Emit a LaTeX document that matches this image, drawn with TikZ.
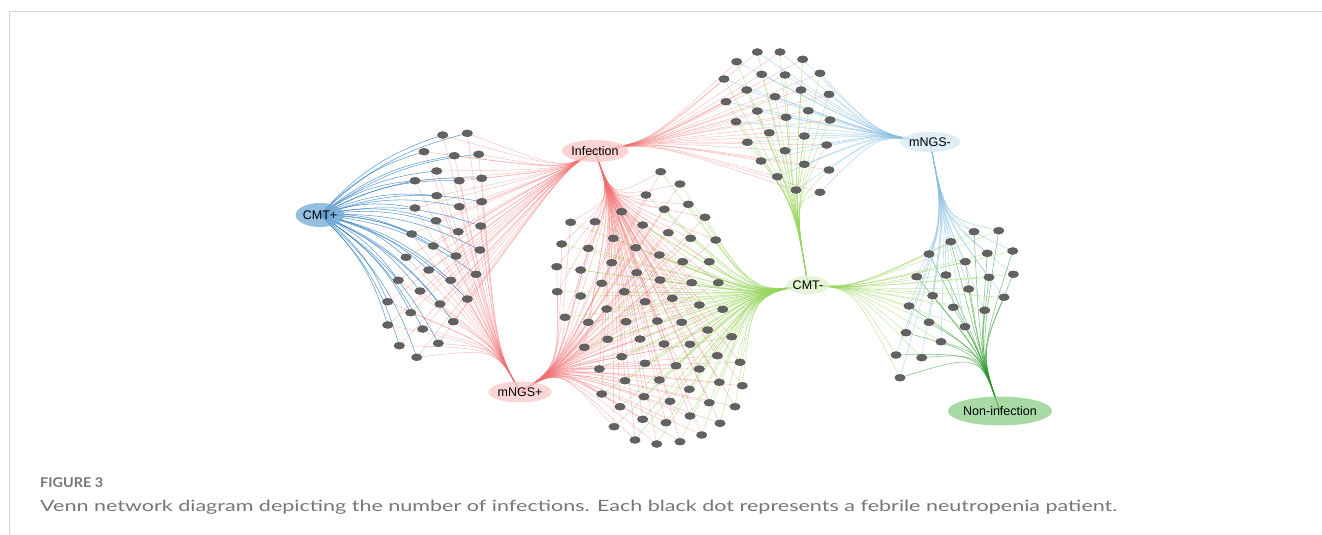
\documentclass[tikz,border=0pt]{standalone}
\usepackage{fontspec}
\setmainfont{Liberation Sans}
\newfontfamily\capfont{Lato}
\usetikzlibrary{shapes.geometric,calc,backgrounds}
\definecolor{framegray}{RGB}{214,214,214}
\definecolor{capgray}{RGB}{118,118,118}
\definecolor{dotfill}{RGB}{98,98,98}
\definecolor{dotline}{RGB}{70,70,70}
\definecolor{cmtpfill}{RGB}{112,170,214}
\definecolor{inffill}{RGB}{250,196,196}
\definecolor{mnpfill}{RGB}{249,200,200}
\definecolor{mnmfill}{RGB}{214,232,246}
\definecolor{cmtmfill}{RGB}{222,241,204}
\definecolor{nonfill}{RGB}{140,205,135}
\definecolor{eblue}{RGB}{30,115,190}
\definecolor{ered}{RGB}{240,110,110}
\definecolor{elblue}{RGB}{135,190,225}
\definecolor{elgreen}{RGB}{150,212,90}
\definecolor{egreen}{RGB}{40,150,40}
\begin{document}
\begin{tikzpicture}[x=1pt,y=-1pt,
  hub/.style={ellipse,inner sep=0pt,fill opacity=0.75,text opacity=1,font=\fontsize{12.5}{12.5}\selectfont},
  dotnode/.style={ellipse,fill=dotfill,draw=dotline,line width=0.3pt,minimum width=10.5pt,minimum height=7pt,inner sep=0pt},
  eb/.style={draw=eblue,line width=0.55pt,opacity=0.7},
  er/.style={draw=ered,line width=0.5pt,opacity=0.42},
  elb/.style={draw=elblue,line width=0.5pt,opacity=0.6},
  elg/.style={draw=elgreen,line width=0.5pt,opacity=0.55},
  eg/.style={draw=egreen,line width=0.55pt,opacity=0.6},
  framestyle/.style={draw=framegray,line width=1pt}]
\useasboundingbox (0,0) rectangle (1322,535);
% frame
\coordinate (f1) at (9,12);
\coordinate (f2) at (1322,12);
\coordinate (f3) at (9,535);
\draw[framestyle] (f2) -- (f1) -- (f3);
% cluster centroids
\coordinate (cL) at (440,245);
\coordinate (cM) at (650,310);
\coordinate (cT) at (780,120);
\coordinate (cR) at (960,295);
% hubs
\node[hub,fill=cmtpfill,minimum width=44pt,minimum height=24pt] (CMTp) at (320,215) {CMT+};
\node[hub,fill=inffill,minimum width=56pt,minimum height=22pt] (Inf) at (595,151) {Infection};
\node[hub,fill=mnmfill,minimum width=60pt,minimum height=20pt] (mNm) at (930,142) {mNGS-};
\node[hub,fill=cmtmfill,minimum width=38pt,minimum height=18pt] (CMTm) at (808,285) {CMT-};
\node[hub,fill=mnpfill,minimum width=55pt,minimum height=21pt] (mNp) at (520,392) {mNGS+};
\node[hub,fill=nonfill,minimum width=84pt,minimum height=29pt] (Non) at (1000,411) {Non-infection};
% left cluster
\foreach \x/\y [count=\i] in {442.7/135,467.3/133.3,424/151.7,454.3/155.7,478.7/154.3,436.7/171,415/180.7,459.3/180.7,481.7/178.3,436.7/195.7,415/208,459.3/206.7,481.7/201.7,436/220.7,458.3/231.7,480.7/226,411.7/234,433.3/246,480/250,456/256,406/257.3,428.7/270,476/274.3,398.3/280.3,450.7/280.3,420/291,440/304,467.3/299,387.7/301.7,410.7/312.7,453.3/321.7,387.7/325,422.7/329,399.3/345.7,438.3/343.3,416.7/357.3}
  \node[dotnode] (L\i) at (\x,\y) {};
% middle cluster
\foreach \x/\y [count=\i] in {660.7/171.7,680/184,646/195,688.3/204.3,664.3/209.3,705/217.3,621.7/211.7,570.7/222.3,595/221.7,642.7/225,668.3/232.7,690.7/238.3,715.7/240,613.3/238.3,561.7/244,588.3/248.3,635.7/247.7,659.3/255,682.7/261.7,709.3/261.7,611.7/262.7,556.7/266.7,580.7/270,636.7/272.7,660/280,691.7/282.7,718.3/282.7,601.7/283.3,557.3/291.7,624.3/291.7,580.7/296,645/301.7,672.3/298.3,699.3/305,722.7/309.3,606.7/309,565/317.3,588.3/322.3,626/321.7,657.3/321,681.7/322.3,707.7/330,731.7/336.7,607.7/339.3,584.3/347.3,640/339,664/344,690/344.3,717.3/355.7,621.7/356.7,740/362.3,645/363.3,676/365.7,699.3/369,599.3/369,625/380.7,659.3/380,719.3/382.3,742.3/385.7,689.3/389.3,601.7/394,644/396.7,670/401.3,709.3/402.7,735/406.7,620/406.7,642.7/419.3,666/422.7,690/416,720/423.3,614/426.7,635/440,656.7/444,680/441.7,701.7/435}
  \node[dotnode] (M\i) at (\x,\y) {};
% top cluster
\foreach \x/\y [count=\i] in {757.3/52,780/52,736.7/61.7,802.7/59.3,724/79,761.7/74.3,785/75,820/73.3,746.7/90,801/90,775/96.7,829/94.3,726/101.7,757.3/111,786/117.3,808.3/110.7,830/120,736/121.7,769.3/132.7,804.3/136,747.3/142.3,826.7/145,785/150.7,761/161,804.3/164.3,829/170,777.3/176.7,796/190,820/192.3}
  \node[dotnode] (T\i) at (\x,\y) {};
% right cluster
\foreach \x/\y [count=\i] in {974/231.7,998.7/230.7,950.7/241.7,929/254,987.3/253.3,1012.7/251,965.3/261.7,916.7/276.7,946/275,989/277.3,1013.3/274.3,968.7/289,932.7/295.7,1004/297.3,909/306,953.3/307.3,984.7/310.3,929/322.3,965/326.7,906/332.7,941/341.7,896/355,921.7/357.7,900/377.7}
  \node[dotnode] (R\i) at (\x,\y) {};
% edges
\begin{pgfonlayer}{background}
\foreach \i in {1,...,36} {
  \draw[er] (Inf.center) .. controls ($(Inf.center)!0.2!(cL)$) .. (L\i.center);
  \draw[er] (mNp.center) .. controls ($(mNp.center)!0.3!(cL)$) .. (L\i.center);
  \draw[eb] (CMTp.center) to[bend left=15] (L\i.center);
}
\foreach \i in {1,...,75} {
  \draw[er] (Inf.center) .. controls ($(Inf.center)!0.3!(cM)$) .. (M\i.center);
  \draw[er] (mNp.center) .. controls ($(mNp.center)!0.3!(cM)$) .. (M\i.center);
  \draw[elg] (CMTm.center) .. controls ($(CMTm.center)!0.35!(cM)$) .. (M\i.center);
}
\foreach \i in {1,...,29} {
  \draw[er] (Inf.center) .. controls ($(Inf.center)!0.3!(cT)$) .. (T\i.center);
  \draw[elb] (mNm.center) .. controls ($(mNm.center)!0.35!(cT)$) .. (T\i.center);
  \draw[elg] (CMTm.center) .. controls ($(CMTm.center)!0.5!(cT)$) .. (T\i.center);
}
\foreach \i in {1,...,24} {
  \draw[elb] (mNm.center) .. controls ($(mNm.center)!0.5!(cR)$) .. (R\i.center);
  \draw[elg] (CMTm.center) .. controls ($(CMTm.center)!0.3!(cR)$) .. (R\i.center);
  \draw[eg] (Non.center) .. controls ($(Non.center)!0.5!(cR)$) .. (R\i.center);
}
\end{pgfonlayer}
% caption
\node[anchor=base west,inner sep=0pt,text=capgray] (figlabel) at (40,487)
  {\resizebox{63pt}{\height}{\capfont\bfseries\fontsize{13.5}{14}\selectfont FIGURE 3}};
\node[anchor=base west,inner sep=0pt,text=capgray] (caption) at (40,511)
  {\resizebox{1077pt}{\height}{\capfont\fontsize{15.5}{17}\selectfont Venn network diagram depicting the number of infections. Each black dot represents a febrile neutropenia patient.}};
\end{tikzpicture}
\end{document}
